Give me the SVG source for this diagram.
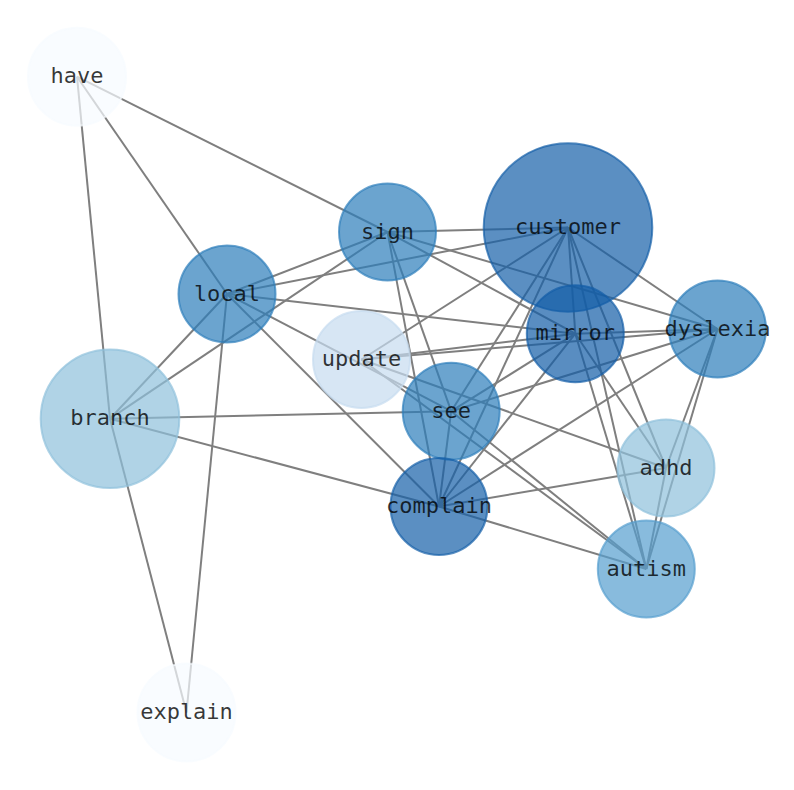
<svg xmlns="http://www.w3.org/2000/svg" width="794" height="790" viewBox="0 0 794 790">
<style>
.e{stroke:#7f7f7f;stroke-width:2;fill:none}
.n circle{fill-opacity:0.7;stroke-opacity:0.7;stroke-width:2}
.n text{font-family:"DejaVu Sans Mono","Liberation Mono",monospace;font-size:22px;fill:#000;fill-opacity:0.78;text-anchor:middle}
.c0{fill:#f7fbff;stroke:#f7fbff}
.c1{fill:#c6dbef;stroke:#c6dbef}
.c2{fill:#8ec0db;stroke:#8ec0db}
.c3{fill:#569ece;stroke:#569ece}
.c4{fill:#2c7eba;stroke:#2c7eba}
.c5{fill:#1560a8;stroke:#1560a8}
.c6{fill:#125ca6;stroke:#125ca6}
</style>
<rect width="794" height="790" fill="#ffffff"/>
<g id="edges">
<line class="e" x1="77" y1="76.7" x2="387.5" y2="232"/>
<line class="e" x1="77" y1="76.7" x2="227" y2="294"/>
<line class="e" x1="77" y1="76.7" x2="110" y2="418.7"/>
<line class="e" x1="110" y1="418.7" x2="227" y2="294"/>
<line class="e" x1="110" y1="418.7" x2="387.5" y2="232"/>
<line class="e" x1="110" y1="418.7" x2="451.2" y2="411.2"/>
<line class="e" x1="110" y1="418.7" x2="439" y2="506.5"/>
<line class="e" x1="110" y1="418.7" x2="186.5" y2="712.5"/>
<line class="e" x1="227" y1="294" x2="186.5" y2="712.5"/>
<line class="e" x1="227" y1="294" x2="387.5" y2="232"/>
<line class="e" x1="227" y1="294" x2="568" y2="227.5"/>
<line class="e" x1="227" y1="294" x2="575.3" y2="333.7"/>
<line class="e" x1="227" y1="294" x2="451.2" y2="411.2"/>
<line class="e" x1="227" y1="294" x2="439" y2="506.5"/>
<line class="e" x1="387.5" y1="232" x2="568" y2="227.5"/>
<line class="e" x1="387.5" y1="232" x2="575.3" y2="333.7"/>
<line class="e" x1="387.5" y1="232" x2="717.5" y2="329"/>
<line class="e" x1="387.5" y1="232" x2="451.2" y2="411.2"/>
<line class="e" x1="387.5" y1="232" x2="439" y2="506.5"/>
<line class="e" x1="568" y1="227.5" x2="361.5" y2="359.5"/>
<line class="e" x1="568" y1="227.5" x2="451.2" y2="411.2"/>
<line class="e" x1="568" y1="227.5" x2="439" y2="506.5"/>
<line class="e" x1="568" y1="227.5" x2="575.3" y2="333.7"/>
<line class="e" x1="568" y1="227.5" x2="666" y2="468"/>
<line class="e" x1="568" y1="227.5" x2="646.3" y2="569"/>
<line class="e" x1="568" y1="227.5" x2="717.5" y2="329"/>
<line class="e" x1="361.5" y1="359.5" x2="575.3" y2="333.7"/>
<line class="e" x1="361.5" y1="359.5" x2="717.5" y2="329"/>
<line class="e" x1="361.5" y1="359.5" x2="666" y2="468"/>
<line class="e" x1="361.5" y1="359.5" x2="646.3" y2="569"/>
<line class="e" x1="575.3" y1="333.7" x2="717.5" y2="329"/>
<line class="e" x1="575.3" y1="333.7" x2="451.2" y2="411.2"/>
<line class="e" x1="575.3" y1="333.7" x2="439" y2="506.5"/>
<line class="e" x1="575.3" y1="333.7" x2="666" y2="468"/>
<line class="e" x1="575.3" y1="333.7" x2="646.3" y2="569"/>
<line class="e" x1="451.2" y1="411.2" x2="717.5" y2="329"/>
<line class="e" x1="451.2" y1="411.2" x2="439" y2="506.5"/>
<line class="e" x1="451.2" y1="411.2" x2="646.3" y2="569"/>
<line class="e" x1="439" y1="506.5" x2="717.5" y2="329"/>
<line class="e" x1="439" y1="506.5" x2="666" y2="468"/>
<line class="e" x1="439" y1="506.5" x2="646.3" y2="569"/>
<line class="e" x1="717.5" y1="329" x2="666" y2="468"/>
<line class="e" x1="717.5" y1="329" x2="646.3" y2="569"/>
<line class="e" x1="666" y1="468" x2="646.3" y2="569"/>
</g>
<g id="node-have" class="n"><circle class="c0" cx="77" cy="76.7" r="49"/></g>
<g id="node-sign" class="n"><circle class="c4" cx="387.5" cy="232" r="48.5"/></g>
<g id="node-customer" class="n"><circle class="c5" cx="568" cy="227.5" r="84.3"/></g>
<g id="node-local" class="n"><circle class="c4" cx="227" cy="294" r="48.5"/></g>
<g id="node-update" class="n"><circle class="c1" cx="361.5" cy="359.5" r="48.5"/></g>
<g id="node-mirror" class="n"><circle class="c6" cx="575.3" cy="333.7" r="48.5"/></g>
<g id="node-dyslexia" class="n"><circle class="c4" cx="717.5" cy="329" r="48.5"/></g>
<g id="node-branch" class="n"><circle class="c2" cx="110" cy="418.7" r="69.3"/></g>
<g id="node-see" class="n"><circle class="c4" cx="451.2" cy="411.2" r="48.5"/></g>
<g id="node-adhd" class="n"><circle class="c2" cx="666" cy="468" r="48.5"/></g>
<g id="node-complain" class="n"><circle class="c5" cx="439" cy="506.5" r="48.5"/></g>
<g id="node-autism" class="n"><circle class="c3" cx="646.3" cy="569" r="48.5"/></g>
<g id="node-explain" class="n"><circle class="c0" cx="186.5" cy="712.5" r="49"/></g>
<g id="labels" class="n">
<text x="77" y="83.2">have</text>
<text x="387.5" y="238.5">sign</text>
<text x="568" y="234">customer</text>
<text x="227" y="300.5">local</text>
<text x="361.5" y="366">update</text>
<text x="575.3" y="340.2">mirror</text>
<text x="717.5" y="335.5">dyslexia</text>
<text x="110" y="425.2">branch</text>
<text x="451.2" y="417.7">see</text>
<text x="666" y="474.5">adhd</text>
<text x="439" y="513">complain</text>
<text x="646.3" y="575.5">autism</text>
<text x="186.5" y="719">explain</text>
</g>
</svg>
